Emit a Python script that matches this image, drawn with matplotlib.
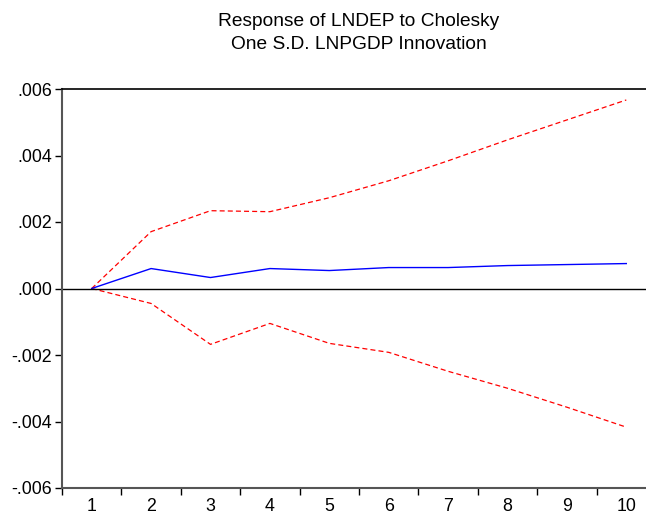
import matplotlib
matplotlib.use("Agg")
import matplotlib.pyplot as plt

periods = [1, 2, 3, 4, 5, 6, 7, 8, 9, 10]
response = [0.0, 0.00060, 0.00033, 0.00060, 0.00054, 0.00063, 0.00063, 0.00069, 0.00072, 0.00075]
upper = [0.0, 0.00171, 0.00234, 0.00231, 0.00273, 0.00324, 0.00384, 0.00447, 0.00507, 0.00567]
lower = [0.0, -0.00045, -0.00168, -0.00105, -0.00165, -0.00192, -0.00249, -0.00300, -0.00357, -0.00417]
yticks = [-0.006, -0.004, -0.002, 0.0, 0.002, 0.004, 0.006]
ytick_labels = ["-.006", "-.004", "-.002", ".000", ".002", ".004", ".006"]
title = "Response of LNDEP to Cholesky\nOne S.D. LNPGDP Innovation"

plt.rcParams['font.family'] = ['Liberation Sans', 'DejaVu Sans']
W, H = 646, 516
fig = plt.figure(figsize=(W / 100, H / 100), dpi=100)
left, right, top, bottom = 62, 656, 89, 488
ax = fig.add_axes([left / W, 1 - bottom / H, (right - left) / W, (bottom - top) / H])

ax.plot(periods, upper, color='red', lw=0.9, ls=(0, (4, 2.5)))
ax.plot(periods, lower, color='red', lw=0.9, ls=(0, (4, 2.5)))
ax.plot(periods, response, color='blue', lw=1.0)
ax.axhline(0, color='black', lw=1.0)

ax.set_xlim(0.5, 10.5)
ax.set_ylim(-0.006, 0.006)
ax.set_yticks(yticks)
ax.set_yticklabels(ytick_labels, fontsize=12.8)
ax.set_xticks(periods)
ax.set_xticklabels([str(p) for p in periods], fontsize=12.8)
ax.tick_params(axis='x', which='major', length=0, pad=7)
ax.set_xticks([p + 0.5 for p in [0] + periods], minor=True)
ax.tick_params(axis='x', which='minor', length=5, width=1, direction='out', color='black')
ax.tick_params(axis='y', length=5, width=1, direction='out', pad=2)

for s in ['left', 'bottom']:
    ax.spines[s].set_color('#555555')
    ax.spines[s].set_linewidth(1.5)
ax.spines['top'].set_color('black')
ax.spines['top'].set_linewidth(1.2)
ax.spines['right'].set_visible(False)

fig.text(359 / W, 1 - 33 / H, title, ha='center', va='center', fontsize=13.8, linespacing=1.4)

fig.savefig('out.png', dpi=100)
